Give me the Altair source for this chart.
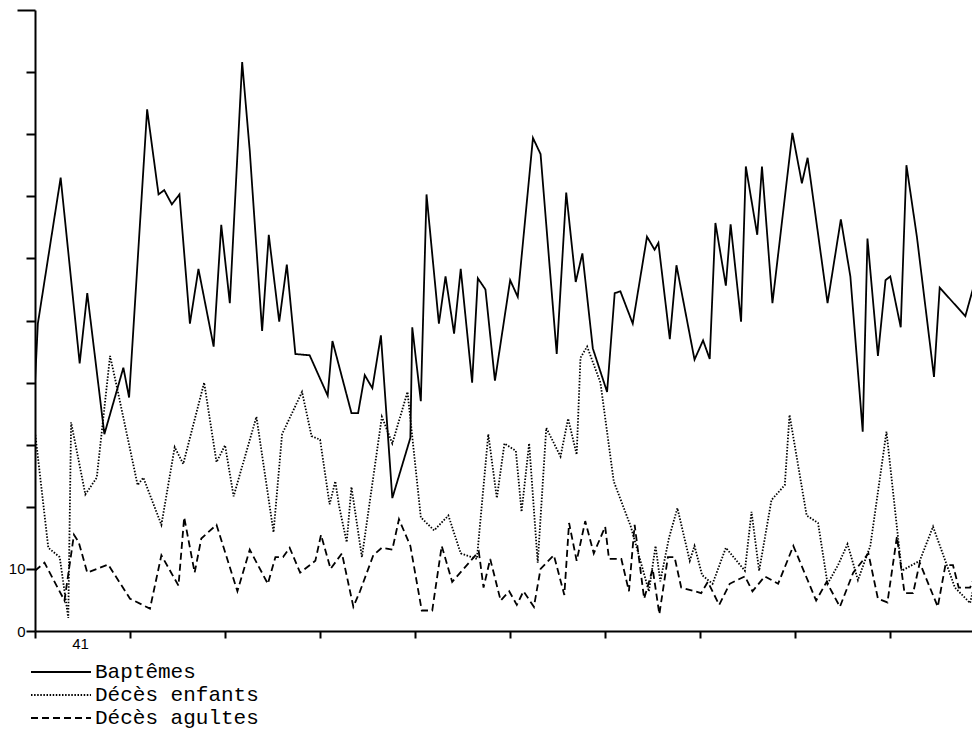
import altair as alt
import pandas as pd

series_names = ["Baptêmes", "Décès enfants", "Décès agultes"]

bapt_annee = [1736.0, 1736.3, 1738.7, 1740.7, 1741.5, 1743.3, 1745.3, 1745.9, 1747.8, 1749.0,
              1749.6, 1750.4, 1751.2, 1752.3, 1753.2, 1754.8, 1755.6, 1756.5, 1757.8, 1758.6,
              1759.9, 1760.6, 1761.7, 1762.5, 1763.4, 1764.9, 1766.8, 1767.3, 1769.3, 1770.0,
              1770.7, 1771.5, 1772.4, 1773.6, 1775.5, 1775.7, 1776.6, 1777.2, 1778.5, 1779.2,
              1780.1, 1780.8, 1782.0, 1782.6, 1783.4, 1784.4, 1786.0, 1786.8, 1788.4, 1789.2,
              1790.9, 1791.9, 1792.9, 1793.6, 1794.7, 1796.2, 1797.0, 1797.6, 1798.9, 1800.4,
              1801.2, 1801.6, 1802.8, 1803.5, 1805.4, 1806.3, 1807.0, 1807.6, 1808.7, 1809.2,
              1810.3, 1810.8, 1812.0, 1812.5, 1813.6, 1815.7, 1816.7, 1817.3, 1819.4, 1820.8,
              1821.8, 1823.1, 1823.6, 1824.7, 1825.5, 1826.0, 1827.1, 1827.7, 1828.8, 1830.6,
              1831.2, 1833.9, 1834.9, 1835.5]
bapt_valeur = [40.0, 49.5, 73.0, 43.1, 54.4, 31.7, 42.4, 37.6, 84.0, 70.3,
               71.0, 68.7, 70.3, 49.5, 58.3, 45.8, 65.4, 52.8, 91.6, 77.3,
               48.3, 63.8, 49.8, 59.0, 44.6, 44.4, 37.9, 46.7, 35.1, 35.1,
               41.2, 39.1, 47.6, 21.4, 31.1, 48.9, 37.0, 70.3, 49.5, 57.1,
               47.9, 58.3, 40.0, 56.8, 55.0, 40.3, 56.5, 53.8, 79.4, 76.8,
               44.6, 70.6, 56.2, 60.8, 45.5, 38.5, 54.4, 54.7, 49.5, 63.5,
               61.4, 62.5, 47.0, 58.9, 43.7, 46.8, 43.8, 65.7, 55.6, 65.5,
               49.8, 74.8, 63.8, 74.8, 52.8, 80.2, 72.1, 76.2, 52.8, 66.3,
               57.1, 32.1, 63.2, 44.3, 56.5, 57.1, 48.9, 75.0, 63.5, 40.9,
               55.3, 50.7, 56.2, 48.0]

enf_annee = [1736.0, 1737.4, 1738.6, 1739.5, 1739.8, 1741.3, 1742.5, 1743.9, 1744.6, 1746.8,
             1747.4, 1749.3, 1750.7, 1751.6, 1753.8, 1755.1, 1756.0, 1756.9, 1759.3, 1761.1,
             1762.0, 1764.1, 1765.1, 1766.0, 1767.0, 1767.6, 1768.0, 1768.8, 1769.3, 1770.4,
             1772.5, 1773.6, 1775.2, 1776.6, 1778.0, 1779.5, 1780.8, 1782.5, 1783.7, 1784.6,
             1785.4, 1786.6, 1787.2, 1788.0, 1788.9, 1789.8, 1791.3, 1792.1, 1793.0, 1793.4,
             1794.1, 1795.5, 1796.9, 1798.7, 1800.6, 1801.3, 1801.8, 1802.7, 1803.6, 1804.9,
             1805.4, 1806.2, 1807.3, 1808.7, 1810.7, 1811.4, 1812.2, 1813.5, 1814.9, 1815.4,
             1817.2, 1818.4, 1819.4, 1820.5, 1821.5, 1822.6, 1823.9, 1825.6, 1827.2, 1829.1,
             1830.5, 1832.8, 1834.4, 1835.5]
enf_valeur = [32.1, 13.4, 11.9, 2.1, 33.6, 22.0, 24.7, 44.3, 39.4, 23.5,
              24.7, 17.1, 29.6, 26.9, 40.0, 27.2, 29.9, 21.7, 34.5, 15.9,
              31.7, 38.5, 31.4, 30.8, 20.4, 24.1, 20.1, 14.3, 23.2, 11.9,
              34.5, 30.2, 38.5, 18.3, 16.2, 18.6, 12.5, 11.6, 31.7, 21.4,
              30.2, 29.0, 19.2, 30.2, 11.0, 32.7, 28.1, 34.2, 28.4, 44.0,
              45.8, 40.0, 24.1, 16.8, 6.4, 13.7, 8.0, 14.9, 19.8, 11.3,
              13.7, 9.0, 7.6, 13.4, 9.7, 19.2, 9.7, 21.1, 23.5, 34.8,
              18.6, 17.4, 7.6, 10.6, 14.0, 8.2, 13.7, 32.1, 9.7, 11.3,
              16.8, 7.0, 4.5, 11.9]

adu_annee = [1736.0, 1737.0, 1739.1, 1740.1, 1740.6, 1741.5, 1743.7, 1746.0, 1748.1, 1749.3,
             1751.1, 1751.7, 1752.8, 1753.5, 1755.1, 1757.3, 1758.6, 1760.5, 1761.3, 1762.1,
             1762.8, 1763.9, 1765.5, 1766.1, 1767.1, 1768.3, 1769.5, 1770.2, 1771.6, 1772.5,
             1773.6, 1774.3, 1775.5, 1776.7, 1777.8, 1778.8, 1779.9, 1782.7, 1783.2, 1783.9,
             1785.0, 1785.9, 1786.7, 1787.4, 1788.5, 1789.2, 1790.6, 1791.7, 1792.2, 1793.0,
             1793.9, 1794.8, 1796.0, 1796.4, 1797.7, 1798.5, 1799.1, 1800.1, 1801.0, 1801.7,
             1802.6, 1803.3, 1804.0, 1806.1, 1806.8, 1808.0, 1809.1, 1810.7, 1811.5, 1812.8,
             1814.2, 1815.8, 1818.2, 1819.3, 1820.7, 1822.1, 1823.7, 1824.7, 1825.7, 1826.7,
             1827.5, 1828.4, 1829.1, 1831.0, 1831.8, 1832.6, 1833.2, 1834.4, 1834.9, 1835.5]
adu_valeur = [9.7, 11.0, 4.9, 15.5, 14.3, 9.4, 10.7, 5.2, 3.6, 12.2,
              7.3, 18.3, 9.4, 14.9, 17.1, 6.4, 13.1, 7.6, 11.9, 11.9,
              13.4, 9.4, 11.3, 15.5, 10.0, 12.5, 3.9, 6.4, 12.2, 13.4,
              13.1, 18.0, 13.7, 3.3, 3.3, 13.7, 7.9, 12.8, 7.0, 11.6,
              4.9, 6.4, 4.2, 6.4, 3.9, 10.0, 12.2, 5.8, 17.4, 11.3,
              17.7, 12.5, 16.8, 11.6, 11.6, 6.4, 17.1, 5.2, 10.0, 2.7,
              11.9, 11.9, 7.0, 6.1, 7.9, 4.2, 7.6, 8.8, 6.4, 8.8,
              7.6, 13.7, 4.9, 7.9, 3.9, 9.4, 12.5, 5.2, 4.6, 15.2,
              6.1, 6.1, 11.0, 3.9, 10.6, 10.6, 7.0, 7.0, 8.8, 8.8]

x_ticks = list(range(1736, 1835, 10))
y_ticks = list(range(0, 101, 10))
x_domain = [1736, 1834.6]
x_label_annee = [1740.8]
x_label_texte = ["41"]
dash_styles = [[1, 0], [1.5, 1.6], [7, 4]]

frames = []
for name, xs, ys in zip(series_names,
                        [bapt_annee, enf_annee, adu_annee],
                        [bapt_valeur, enf_valeur, adu_valeur]):
    assert len(xs) == len(ys), name
    frames.append(pd.DataFrame({"annee": xs, "valeur": ys, "serie": name}))
df = pd.concat(frames, ignore_index=True)

labels_df = pd.DataFrame({"annee": x_label_annee, "texte": x_label_texte})

x_enc = alt.X("annee:Q",
              scale=alt.Scale(domain=x_domain, nice=False, zero=False),
              axis=alt.Axis(values=x_ticks, labels=False, title=None, grid=False,
                            tickSize=7, tickWidth=2, tickColor="black",
                            domainColor="black", domainWidth=2))

lines = alt.Chart(df).mark_line(color="black", strokeWidth=1.8, clip=True).encode(
    x=x_enc,
    y=alt.Y("valeur:Q",
            scale=alt.Scale(domain=[0, 100], nice=False),
            axis=alt.Axis(values=y_ticks, title=None, grid=False,
                          labelExpr="datum.value == 10 ? '10' : (datum.value == 0 ? '0' : '')",
                          labelFont="Liberation Sans", labelFontSize=15, labelColor="black",
                          labelPadding=1,
                          tickSize={"condition": {"test": "datum.value == 100", "value": 18}, "value": 9},
                          tickWidth=2, tickColor="black",
                          domainColor="black", domainWidth=2)),
    strokeDash=alt.StrokeDash("serie:N",
                              scale=alt.Scale(domain=series_names, range=dash_styles),
                              sort=series_names,
                              legend=alt.Legend(title=None, orient="none", legendX=15, legendY=651,
                                                symbolType="M-3,0H3", symbolSize=400,
                                                symbolStrokeWidth=2, symbolStrokeColor="black",
                                                labelFont="Liberation Mono", labelFontSize=21,
                                                labelColor="black", labelOffset=23, labelLimit=400,
                                                rowPadding=2, padding=0)),
    detail="serie:N",
)

texte = alt.Chart(labels_df).mark_text(font="Liberation Sans", fontSize=15,
                                       baseline="top", color="black").encode(
    x=alt.X("annee:Q", scale=alt.Scale(domain=x_domain, nice=False, zero=False)),
    y=alt.value(627),
    text="texte:N",
)

chart = alt.layer(lines, texte).properties(
    width=937, height=621,
    padding={"left": 27, "top": 2, "right": 0, "bottom": 100},
    autosize=alt.AutoSizeParams(type="none"),
    background="white",
).configure_view(stroke=None)

chart.save("out.html", embed_options={"renderer": "svg", "actions": False})
